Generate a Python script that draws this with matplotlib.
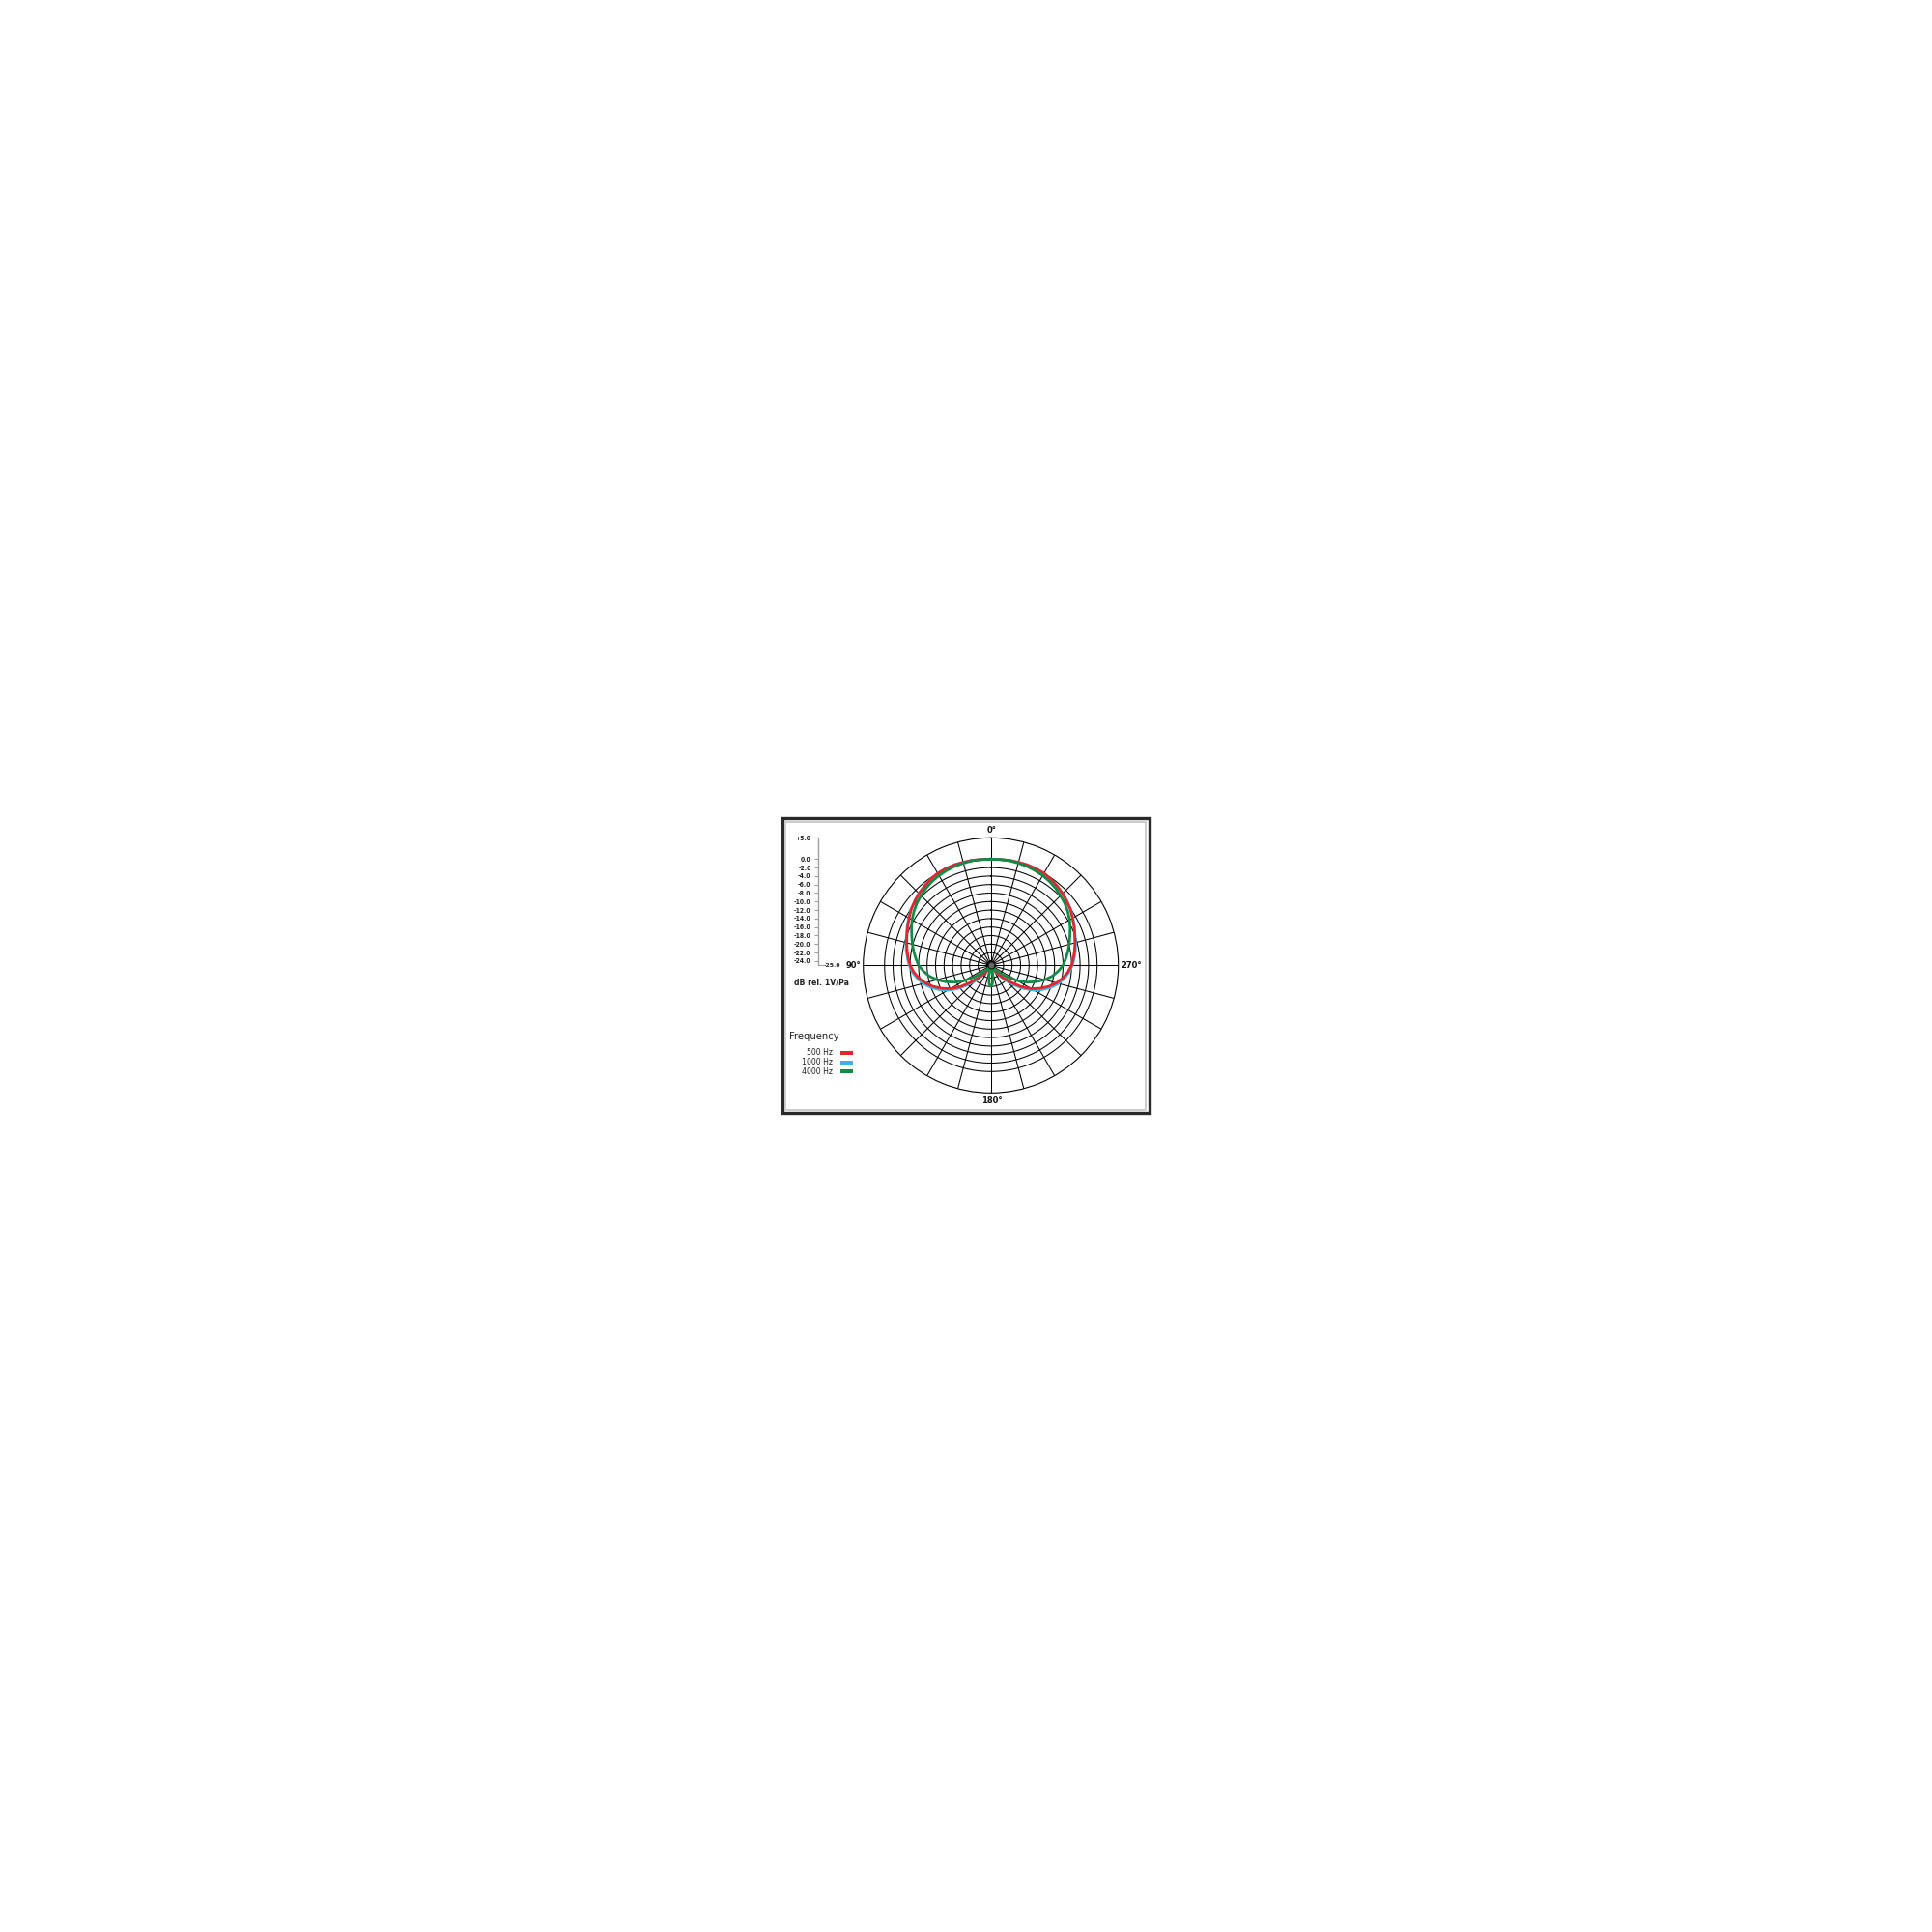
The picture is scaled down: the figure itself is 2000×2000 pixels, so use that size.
import numpy as np
import matplotlib
matplotlib.use('Agg')
import matplotlib.pyplot as plt
from matplotlib.patches import Rectangle

# polar response, dB rel. 1V/Pa, read at 5 degree steps from 0 to 180 (pattern is symmetric)
angles_deg = list(range(0, 185, 5))

db_500 = [0.0, 0.0, 0.1, 0.1, 0.15, 0.1, 0.0, -0.3, -0.7, -1.1,
          -1.6, -2.1, -2.8, -3.4, -4.0, -4.5, -5.0, -5.5, -6.0, -6.8,
          -7.8, -9.0, -10.5, -12.2, -14.0, -16.2, -18.7, -20.8, -22.2, -23.4,
          -24.4, -25.0, -25.0, -25.0, -25.0, -25.0, -25.0]
db_1000 = [0.0, 0.0, 0.1, 0.1, 0.15, 0.1, 0.0, -0.3, -0.7, -1.1,
           -1.6, -2.1, -2.7, -3.3, -3.9, -4.35, -4.8, -5.3, -5.8, -6.5,
           -7.4, -8.5, -9.9, -11.5, -13.3, -15.4, -17.8, -20.0, -21.8, -23.2,
           -24.3, -25.0, -25.0, -25.0, -25.0, -25.0, -25.0]
db_4000 = [0.0, 0.0, 0.0, -0.1, -0.2, -0.4, -0.6, -0.9, -1.3, -1.8,
           -2.3, -2.9, -3.6, -4.4, -5.2, -5.9, -6.6, -7.3, -8.0, -9.1,
           -10.3, -11.9, -13.7, -15.6, -17.8, -20.1, -22.0, -23.4, -24.4, -25.0,
           -25.0, -25.0, -25.0, -24.2, -22.3, -20.6, -20.0]

freq_labels = ['500 Hz', '1000 Hz', '4000 Hz']
freq_colors = ['#e3262b', '#3fb3e6', '#138a45']
scale_ticks = [5, 0, -2, -4, -6, -8, -10, -12, -14, -16, -18, -20, -22, -24]
ring_values = [-24, -22, -20, -18, -16, -14, -12, -10, -8, -6, -4, -2, 0]

W = 2000.0
def fx(x):
    return x / W
def fy(y):
    return 1 - y / W

fig = plt.figure(figsize=(20, 20), dpi=100)
fig.patch.set_facecolor('white')

# frame
fig.patches.append(Rectangle((fx(809.5), fy(1152)), 380 / W, 305 / W, transform=fig.transFigure,
                             fill=False, edgecolor='#2a2a2a', linewidth=2.4))
fig.patches.append(Rectangle((fx(813), fy(1148.5)), 373 / W, 298 / W, transform=fig.transFigure,
                             fill=False, edgecolor='#c8c8c8', linewidth=1.3))

# polar plot
cx, cy, R = 1025.7, 999.3, 132.0
ax = fig.add_axes([fx(cx - R), fy(cy + R), 2 * R / W, 2 * R / W], projection='polar')
ax.set_theta_zero_location('N')
ax.set_theta_direction(1)
ax.set_rlim(-25, 5)
ax.grid(False)
ax.set_xticks([])
ax.set_yticks([])
ax.spines['polar'].set_linewidth(0.8)
ax.spines['polar'].set_color('black')

full = np.linspace(0, 2 * np.pi, 400)
for rv in ring_values:
    ax.plot(full, np.full_like(full, rv), color='black', lw=0.75, zorder=1)
for a in range(0, 360, 15):
    t = np.deg2rad(a)
    ax.plot([t, t], [-25, 5], color='black', lw=0.75, zorder=1)

th_half = np.deg2rad(angles_deg)
th_full = np.concatenate([th_half, 2 * np.pi - th_half[-2::-1]])
order = [(db_1000, 1), (db_500, 0), (db_4000, 2)]
for vals, i in order:
    v = np.array(vals)
    r_full = np.concatenate([v, v[-2::-1]])
    ax.plot(th_full, r_full, color=freq_colors[i], lw=2.0, zorder=3)

ax.plot([0], [-25], 'o', ms=5, mfc='#666666', mec='black', mew=0.6, zorder=4)

# angle labels
lab = dict(fontsize=6, fontweight='bold', ha='center', va='center', color='#111111')
fig.text(fx(1026.5), fy(860), '0°', **lab)
fig.text(fx(1171), fy(1000), '270°', **lab)
fig.text(fx(1027), fy(1140), '180°', **lab)
fig.text(fx(883.5), fy(1000), '90°', **lab)

# dB scale at left
sx = 846.7
sax = fig.add_axes([fx(sx), fy(cy), 0.0001, R / W])
sax.set_ylim(-25, 5)
sax.set_xticks([])
for s in ['top', 'right', 'bottom']:
    sax.spines[s].set_visible(False)
sax.spines['left'].set_color('#a0a0a0')
sax.spines['left'].set_linewidth(1.0)
sax.set_yticks(scale_ticks)
sax.set_yticklabels(['+5.0' if t > 0 else '%.1f' % t for t in scale_ticks])
sax.tick_params(axis='y', length=3, width=0.8, color='#a0a0a0', pad=2.2,
                labelsize=4.9, labelcolor='#222222')
for t in sax.get_yticklabels():
    t.set_fontweight('bold')
    t.set_fontstretch('condensed')
fig.lines.append(plt.Line2D([fx(sx), fx(sx + 5)], [fy(cy - 0.3), fy(cy - 0.3)],
                            transform=fig.transFigure, color='#a0a0a0', lw=0.8))
fig.text(fx(853), fy(999.5), '-25.0', fontsize=4.4, fontweight='bold', ha='left', va='center',
         color='#222222')
fig.text(fx(821.5), fy(1016.7), 'dB rel. 1V/Pa', fontsize=5.6, fontweight='bold',
         ha='left', va='center', color='#222222')

# frequency legend
fig.text(fx(817.3), fy(1073.3), 'Frequency', fontsize=7.3, ha='left', va='center', color='#222222')
for i, name in enumerate(freq_labels):
    yy = 1090 + 9.7 * i
    fig.text(fx(861.7), fy(yy), name, fontsize=5.6, ha='right', va='center', color='#222222')
    fig.patches.append(Rectangle((fx(870), fy(yy + 2)), 13.3 / W, 4.0 / W,
                                 transform=fig.transFigure, facecolor=freq_colors[i],
                                 edgecolor='none'))

fig.savefig('out.png', dpi=100, facecolor='white')
